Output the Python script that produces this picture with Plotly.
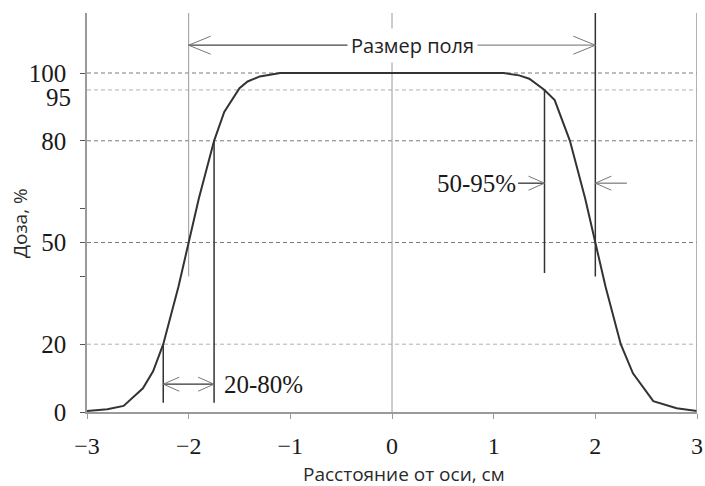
import plotly.graph_objects as go

# ---- data ----
profile_x = [-3, -2.8, -2.64, -2.45, -2.35, -2.25, -2.1, -2.0, -1.9, -1.75, -1.65, -1.5, -1.42, -1.3, -1.1,
             0, 1.1, 1.25, 1.35, 1.5, 1.6, 1.75, 1.9, 2.0, 2.1, 2.25, 2.37, 2.57, 2.8, 3]
profile_y = [0.3, 0.8, 1.8, 7, 12, 20, 37, 50, 63, 80, 88.5, 95.5, 97.5, 99, 100,
             100, 100, 99.3, 98.3, 95, 92, 80, 63, 50, 37, 20, 11.4, 3.2, 1.1, 0.3]

x_ticks = [-3, -2, -1, 0, 1, 2, 3]
y_ticks = [0, 20, 40, 50, 60, 80, 100]
y_tick_text = ["0", "20", "", "50", "", "80", "100"]
y_extra_label = 95

grid_levels = [100, 95, 80, 50, 20]
grid_kind = ["dark", "light", "dark", "dark", "light"]

# vertical marker lines: x, top, bottom, kind
marker_x = [0, -2, 2, 1.5, -1.75, -2.25]
marker_top = [117.7, 117.7, 117.7, 95, 80, 20]
marker_bottom = [0, 40, 40, 41, 2.7, 2.7]
marker_kind = ["grid", "grid", "dark", "dark", "dark", "dark"]

field_edges = [-2, 2]
field_arrow_y = 108.2
field_label_x = 0.2
field_label = "Размер поля"

penumbra_edges = [-2.25, -1.75]
penumbra_arrow_y = 8.2
penumbra_label_x = -1.67
penumbra_label = "20-80%"

shoulder_edges = [1.5, 2.0]
shoulder_tails = [1.24, 2.31]
shoulder_arrow_y = 67.5
shoulder_label = "50-95%"

x_range = [-3, 3]
y_range = [0, 117.7]

y_title = "Доза, %"
x_title = "Расстояние от оси, см"

# ---- styles ----
SERIF = "Liberation Serif"
SANS = "Open Sans"
DARK = "#333333"
GRID_DARK = "#7a7a7a"
GRID_LIGHT = "#b0b0b0"
AXIS = "#9a9a9a"
HEAD = "#777777"

W, H = 705, 486
ML, MR, MT, MB = 87, 8, 13.3, 74.3
pw, ph = W - ML - MR, H - MT - MB

fig = go.Figure()
fig.add_trace(go.Scatter(x=profile_x, y=profile_y, mode="lines",
                         line=dict(color=DARK, width=2), hoverinfo="skip"))

shapes = []
for lvl, kind in zip(grid_levels, grid_kind):
    shapes.append(dict(type="line", xref="x", yref="y", x0=x_range[0], x1=x_range[1], y0=lvl, y1=lvl,
                       line=dict(color=GRID_DARK if kind == "dark" else GRID_LIGHT, width=1, dash="4px,3px"),
                       layer="below"))
for mx, top, bot, kind in zip(marker_x, marker_top, marker_bottom, marker_kind):
    shapes.append(dict(type="line", xref="x", yref="y", x0=mx, x1=mx, y0=bot, y1=top,
                       line=dict(color=AXIS if kind == "grid" else DARK, width=1 if kind == "grid" else 1.5),
                       layer="below" if kind == "grid" else "above"))
# right border
shapes.append(dict(type="line", xref="x", yref="y", x0=x_range[1], x1=x_range[1], y0=y_range[0], y1=y_range[1],
                   line=dict(color=AXIS, width=1.5)))


def head(x, y, direction, L, Hh):
    s = 1 if direction == "right" else -1
    return dict(type="path", xref="x", yref="y", xsizemode="pixel", ysizemode="pixel",
                xanchor=x, yanchor=y,
                path=f"M {-s*L},{Hh} L 0,0 L {-s*L},{-Hh}",
                line=dict(color=HEAD, width=1))


# field size arrow
shapes.append(dict(type="line", xref="x", yref="y", x0=field_edges[0], x1=field_label_x,
                   y0=field_arrow_y, y1=field_arrow_y, line=dict(color="#444444", width=1.3)))
shapes.append(dict(type="line", xref="x", yref="y", x0=field_label_x, x1=field_edges[1],
                   y0=field_arrow_y, y1=field_arrow_y, line=dict(color="#8a8a8a", width=1.2)))
shapes.append(head(field_edges[0], field_arrow_y, "left", 22, 9))
shapes.append(head(field_edges[1], field_arrow_y, "right", 22, 9))

# penumbra arrow
shapes.append(dict(type="line", xref="x", yref="y", x0=penumbra_edges[0], x1=penumbra_edges[1],
                   y0=penumbra_arrow_y, y1=penumbra_arrow_y, line=dict(color=DARK, width=1.3)))
shapes.append(head(penumbra_edges[0], penumbra_arrow_y, "left", 16, 7))
shapes.append(head(penumbra_edges[1], penumbra_arrow_y, "right", 16, 7))

# shoulder arrows
shapes.append(dict(type="line", xref="x", yref="y", x0=shoulder_tails[0], x1=shoulder_edges[0],
                   y0=shoulder_arrow_y, y1=shoulder_arrow_y, line=dict(color=DARK, width=1.3)))
shapes.append(head(shoulder_edges[0], shoulder_arrow_y, "right", 16, 7))
shapes.append(dict(type="line", xref="x", yref="y", x0=shoulder_tails[1], x1=shoulder_edges[1],
                   y0=shoulder_arrow_y, y1=shoulder_arrow_y, line=dict(color="#777777", width=1.2)))
shapes.append(head(shoulder_edges[1], shoulder_arrow_y, "left", 16, 7))

annotations = [
    dict(x=field_label_x, y=field_arrow_y, xref="x", yref="y", text=field_label, showarrow=False,
         font=dict(family=SANS, size=20, color="#222222"), bgcolor="white", borderpad=3),
    dict(x=penumbra_label_x, y=penumbra_arrow_y, xref="x", yref="y", text=penumbra_label, showarrow=False,
         xanchor="left", font=dict(family=SERIF, size=25, color="#1a1a1a")),
    dict(x=shoulder_tails[0], y=shoulder_arrow_y, xref="x", yref="y", text=shoulder_label, showarrow=False,
         xanchor="right", font=dict(family=SERIF, size=25, color="#1a1a1a")),
    dict(x=x_range[0], y=y_extra_label, xref="x", yref="y", text=str(y_extra_label), showarrow=False,
         xanchor="right", xshift=-14, yshift=-8, font=dict(family=SERIF, size=25, color="#1a1a1a")),
    dict(x=(20 - ML) / pw, y=(H - MB - 223) / ph, xref="paper", yref="paper", text=y_title,
         showarrow=False, textangle=-90, xanchor="center", yanchor="middle",
         font=dict(family=SANS, size=19, color="#2a2a2a")),
    dict(x=(404 - ML) / pw, y=(H - MB - 474) / ph, xref="paper", yref="paper", text=x_title,
         showarrow=False, xanchor="center", yanchor="middle",
         font=dict(family=SANS, size=19, color="#2a2a2a")),
]

fig.update_layout(
    width=W, height=H,
    margin=dict(l=ML, r=MR, t=MT, b=MB, pad=0, autoexpand=False),
    plot_bgcolor="white", paper_bgcolor="white",
    showlegend=False,
    shapes=shapes, annotations=annotations,
    xaxis=dict(range=x_range, tickvals=x_ticks, showgrid=False, zeroline=False, automargin=False,
               showline=True, linecolor=AXIS, linewidth=1.5,
               ticks="outside", ticklen=5, tickcolor=AXIS, ticklabelstandoff=6,
               tickfont=dict(family=SERIF, size=24, color="#1a1a1a")),
    yaxis=dict(range=y_range, tickvals=y_ticks, ticktext=y_tick_text, showgrid=False, zeroline=False,
               automargin=False,
               showline=True, linecolor=AXIS, linewidth=1.5,
               ticks="outside", ticklen=5, tickcolor="#555555", ticklabelstandoff=9,
               tickfont=dict(family=SERIF, size=25, color="#1a1a1a")),
)

fig.write_html("out.html", config={"displayModeBar": False},
               post_script="document.body.style.margin='0';document.body.style.overflow='hidden';")
